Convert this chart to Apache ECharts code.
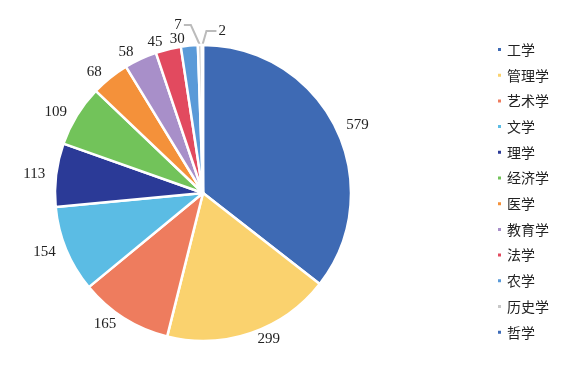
<!DOCTYPE html>
<html><head><meta charset="utf-8">
<script src="https://cdn.jsdelivr.net/npm/echarts@6/dist/echarts.min.js"></script>
<style>html,body{margin:0;padding:0;background:#fff}#c{width:568px;height:372px}</style>
</head><body><div id="c"></div>
<script>
const categories = ['工学','管理学','艺术学','文学','理学','经济学','医学','教育学','法学','农学','历史学','哲学'];
const values = [579,299,165,154,113,109,68,58,45,30,7,2];
const colors = ['#3E6AB4','#FAD26E','#EE7C5E','#5BBCE4','#2B3A97','#72C35A','#F4913A','#A88FC9','#E24A5F','#5A9AD8','#C8C8C8','#3D6BB8'];

const data = categories.map((n,i)=>{
  const d = {name:n, value:values[i], itemStyle:{color:colors[i]}};
  if (n==='历史学') {
    d.labelLine = {show:true, length:20, length2:7, lineStyle:{color:'#BBBBBB', width:2}};
  } else if (n==='哲学') {
    d.labelLine = {show:true, length:14, length2:10, lineStyle:{color:'#BBBBBB', width:2}};
  }
  return d;
});

const chart = echarts.init(document.getElementById('c'), null, {renderer:'canvas'});
chart.setOption({
  animation:false,
  backgroundColor:'#fff',
  legend:{
    orient:'vertical', right:14, top:36,
    icon:'rect', itemWidth:5, itemHeight:5, itemGap:8.7,
    textStyle:{fontSize:14, lineHeight:17, color:'#222', fontFamily:'Noto Sans CJK SC'},
    data:categories
  },
  series:[{
    type:'pie',
    center:[203,193], radius:[0,148],
    startAngle:90, clockwise:true,
    avoidLabelOverlap:false,
    minShowLabelAngle:0,
    labelLayout:function(p){
      const pts = p.labelLinePoints;
      if (!pts) return {hideOverlap:false};
      const n = categories[p.dataIndex];
      if (n==='历史学') {
        const p0 = pts[0];
        const p1 = [p0[0]-9, pts[1][1]];
        const p2 = [p1[0]-7, p1[1]];
        return {hideOverlap:false, labelLinePoints:[p0,p1,p2], x:p2[0]-2, y:p2[1], align:'right', verticalAlign:'middle'};
      }
      if (n==='哲学') {
        const p0 = pts[0];
        const p1 = [p0[0]+4, pts[1][1]];
        const p2 = [p1[0]+10, p1[1]];
        return {hideOverlap:false, labelLinePoints:[p0,p1,p2], x:p2[0]+2, y:p2[1], align:'left', verticalAlign:'middle'};
      }
      return {hideOverlap:false};
    },
    itemStyle:{borderColor:'#fff', borderWidth:2.5},
    label:{show:true, position:'outside', formatter:'{c}', fontSize:15, color:'#222', fontFamily:'Liberation Serif', distanceToLabelLine:2},
    labelLine:{show:false, length:7, length2:2},
    emphasis:{disabled:true},
    data:data
  }]
});
</script></body></html>
